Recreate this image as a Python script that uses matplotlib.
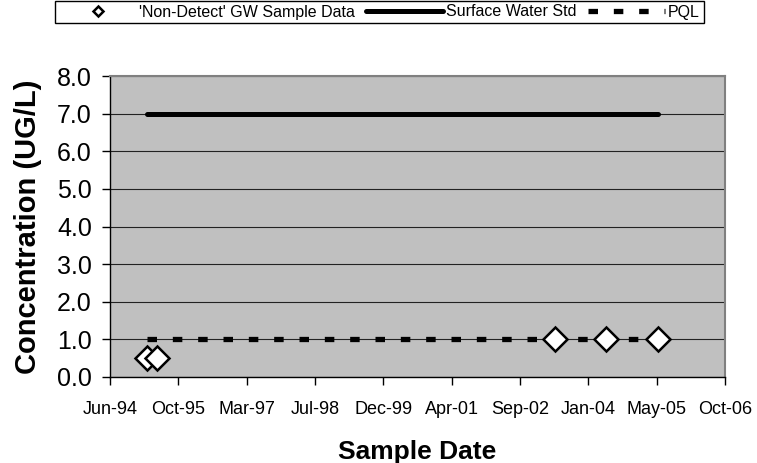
import matplotlib
matplotlib.use('Agg')
import matplotlib.pyplot as plt
import matplotlib.dates as mdates
import numpy as np
from datetime import datetime, timedelta

# Data
nd_dates = ['1995-03-16', '1995-05-24', '2003-05-16', '2004-05-22', '2005-06-07']
nd_values = [0.5, 0.5, 1.0, 1.0, 1.0]

std_dates = ['1995-03-16', '1995-05-24', '2003-05-16', '2004-05-22', '2005-06-07']
std_values = [7.0, 7.0, 7.0, 7.0, 7.0]

pql_dates = ['1995-03-16', '1995-05-24', '2003-05-16', '2004-05-22', '2005-06-07']
pql_values = [1.0, 1.0, 1.0, 1.0, 1.0]

# Excel-style date axis: Jun-94 .. Oct-06, major unit 500 days
x_start = datetime(1994, 6, 15)
x_step_days = 500
n_steps = 9
y_ticks = [0, 1, 2, 3, 4, 5, 6, 7, 8]

plt.rcParams['font.family'] = ['Liberation Sans', 'DejaVu Sans']

def to_dt(lst):
    return [datetime.strptime(d, '%Y-%m-%d') for d in lst]

fig = plt.figure(figsize=(7.57, 4.63), dpi=100)
ax = fig.add_axes([110 / 757, 1 - 377 / 463, 615 / 757, 301 / 463])
ax.set_facecolor('#C0C0C0')

# Horizontal gridlines
ax.set_axisbelow(True)
ax.yaxis.grid(True, color='#222222', linewidth=0.8)

# Series
ax.plot(to_dt(std_dates), std_values, color='black', linewidth=3.6,
        solid_capstyle='round', label='Surface Water Std', zorder=3)
ax.plot(to_dt(pql_dates), pql_values, color='black', linewidth=3.8,
        linestyle=(0, (1.8, 3.0)), label='PQL', zorder=3)
ax.plot(to_dt(nd_dates), nd_values, linestyle='none', marker='D',
        markersize=12, markerfacecolor='white', markeredgecolor='black',
        markeredgewidth=1.8, label="'Non-Detect' GW Sample Data", zorder=4)

# Axes limits and ticks
x_ticks = [x_start + timedelta(days=x_step_days * i) for i in range(n_steps + 1)]
ax.set_xlim(x_ticks[0], x_ticks[-1])
ax.set_xticks(x_ticks)
ax.xaxis.set_major_formatter(mdates.DateFormatter('%b-%y'))
ax.set_ylim(0, 8)
ax.set_yticks(y_ticks)
ax.set_yticklabels([f'{v:.1f}' for v in y_ticks])

ax.tick_params(axis='x', direction='out', length=6, width=1, labelsize=13, pad=11)
ax.tick_params(axis='y', direction='out', length=6, width=1, labelsize=18, pad=7)

for side in ['top', 'right']:
    ax.spines[side].set_color('#808080')
    ax.spines[side].set_linewidth(1.5)
for side in ['left', 'bottom']:
    ax.spines[side].set_color('black')
    ax.spines[side].set_linewidth(1.0)

ax.set_xlabel('Sample Date', fontsize=19, fontweight='bold', labelpad=16)
ax.set_ylabel('Concentration (UG/L)', fontsize=21, fontweight='bold', labelpad=11)

# Legend along the top, order as in the original
handles, labels = ax.get_legend_handles_labels()
order = [2, 0, 1]
leg = fig.legend([handles[i] for i in order], [labels[i] for i in order],
                 loc='center', bbox_to_anchor=(379.5 / 757, 1 - 12 / 463),
                 ncol=3, fontsize=11.5, frameon=True, fancybox=False,
                 edgecolor='black', framealpha=1, borderpad=0.25,
                 handlelength=4.8, handletextpad=0.2, columnspacing=0.7,
                 markerscale=0.42, borderaxespad=0)
leg.get_frame().set_linewidth(1.0)

fig.savefig('out.png', dpi=100)
